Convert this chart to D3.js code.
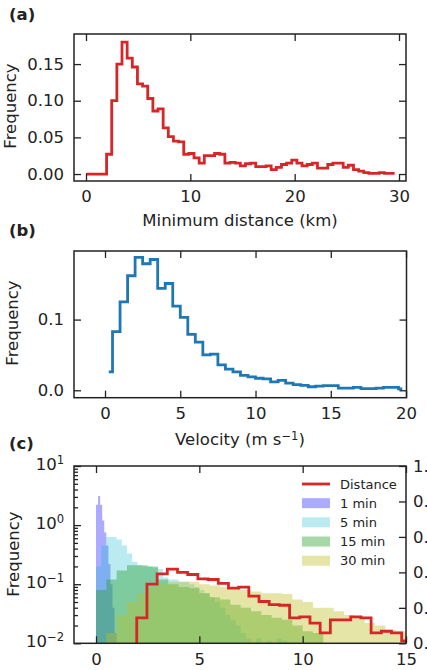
<!DOCTYPE html>
<html>
<head>
<meta charset="utf-8">
<script src="https://cdn.jsdelivr.net/npm/d3@7"></script>
<style>
  body { margin: 0; background: #fff; }
  svg { display: block; font-family: "DejaVu Sans", sans-serif; }
</style>
</head>
<body>
<script>
// ---- data ----
// (a) minimum distance histogram, bins start at 0 km
var distBinWidth = 0.493;
var distFreq = [0, 0, 0, 0, 0.027, 0.100, 0.150, 0.180, 0.158, 0.146,
  0.123, 0.120, 0.103, 0.086, 0.089, 0.063, 0.051, 0.045, 0.044, 0.027,
  0.028, 0.022, 0.015, 0.025, 0.025, 0.028, 0.027, 0.015, 0.016, 0.015,
  0.011, 0.014, 0.015, 0.010, 0.010, 0.011, 0.006, 0.009, 0.013, 0.015,
  0.019, 0.015, 0.011, 0.013, 0.015, 0.008, 0.008, 0.013, 0.015, 0.015,
  0.009, 0.012, 0.006, 0.004, 0.002, 0.001, 0.001, 0.002, 0.001, 0.001];

// (b) velocity histogram, 0.5 m/s bins, drawn mid-step
var velBinWidth = 0.5;
var velFreq = [0.026, 0.083, 0.125, 0.162, 0.188, 0.179, 0.185, 0.144, 0.151, 0.119,
  0.103, 0.079, 0.068, 0.050, 0.051, 0.036, 0.030, 0.026, 0.021, 0.019,
  0.017, 0.016, 0.012, 0.014, 0.010, 0.008, 0.007, 0.005, 0.006, 0.0066,
  0.0066, 0.003, 0.003, 0.004, 0.0024, 0.0024, 0.003, 0.004, 0.004, 0.002];

// (c) displacement histograms for several time windows (bins start at 0)
var oneMinWidth = 0.1;
var oneMin = [2.2, 3.1, 2.2, 1.2, 0.75, 0.45, 0.22, 0.1, 0.04, 0.015];
var fiveMinWidth = 0.25;
var fiveMin = [0.2, 0.45, 0.63, 0.63, 0.57, 0.45, 0.33, 0.24, 0.21, 0.2,
  0.2, 0.19, 0.18, 0.13, 0.12, 0.12, 0.11, 0.11, 0.1, 0.09,
  0.08, 0.07, 0.06, 0.05, 0.04, 0.03, 0.025, 0.02, 0.015, 0.012,
  0.01, 0.012, 0, 0.011, 0, 0.012, 0.011, 0];
var fifteenMinWidth = 0.5;
var fifteenMin = [0.08, 0.12, 0.17, 0.21, 0.21, 0.2, 0.12, 0.1, 0.09, 0.085,
  0.07, 0.06, 0.055, 0.045, 0.04, 0.035, 0.03, 0.027, 0.025, 0.02,
  0.016, 0.015];
var thirtyMinWidth = 0.5;
var thirtyMin = [0, 0.015, 0.03, 0.05, 0.07, 0.09, 0.1, 0.11, 0.11, 0.11,
  0.1, 0.095, 0.09, 0.085, 0.08, 0.075, 0.07, 0.07, 0.068, 0.055,
  0.05, 0.04, 0.04, 0.035, 0.03, 0.028, 0.022, 0.02, 0.017, 0.016, 0.015];

var legendLabels = ["Distance", "1 min", "5 min", "15 min", "30 min"];
var fillColors = ["#0000ff", "#17becf", "#2ca02c", "#bcbd22"];
var fillAlpha = [0.33, 0.3, 0.42, 0.4];

var aXTicks = [0, 10, 20, 30], aYTicks = [0, 0.05, 0.10, 0.15];
var bXTicks = [0, 5, 10, 15, 20], bYTicks = [0, 0.1];
var cXTicks = [0, 5, 10, 15], cYTicks = [1e-2, 1e-1, 1, 10];
var cRightTicks = [0, 0.2, 0.4, 0.6, 0.8, 1.0];

// ---- drawing ----
var W = 427, H = 670, FS = 16.5, INK = "#222";
var svg = d3.select("body").append("svg").attr("width", W).attr("height", H);

function edges(values, width) {
  var pts = values.map(function (v, i) { return { x: i * width, v: v }; });
  pts.push({ x: values.length * width, v: values[values.length - 1] });
  return pts;
}

function clip(id, box) {
  svg.append("clipPath").attr("id", id).append("rect")
    .attr("x", box.l).attr("y", box.t).attr("width", box.r - box.l).attr("height", box.b - box.t);
}

function styleAxis(g) {
  g.attr("font-size", FS).attr("font-family", "DejaVu Sans").attr("color", INK);
  g.selectAll(".domain").remove();
  g.selectAll(".tick line").attr("stroke-width", 1.3);
  return g;
}

function axes(box, x, y, xt, yt, xfmt, yfmt, rightTicks) {
  styleAxis(svg.append("g").attr("transform", "translate(0," + box.b + ")")
    .call(d3.axisBottom(x).tickValues(xt).tickSizeInner(-7).tickSizeOuter(0).tickPadding(9.5).tickFormat(xfmt)));
  styleAxis(svg.append("g").attr("transform", "translate(0," + box.t + ")")
    .call(d3.axisTop(x).tickValues(xt).tickSizeInner(-7).tickSizeOuter(0).tickFormat("")));
  var left = styleAxis(svg.append("g").attr("transform", "translate(" + box.l + ",0)")
    .call(d3.axisLeft(y).tickValues(yt).tickSizeInner(-7).tickSizeOuter(0).tickPadding(10).tickFormat(yfmt)));
  if (rightTicks) {
    styleAxis(svg.append("g").attr("transform", "translate(" + box.r + ",0)")
      .call(d3.axisRight(y).tickValues(yt).tickSizeInner(-7).tickSizeOuter(0).tickFormat("")));
  }
  return left;
}

function frame(box) {
  svg.append("rect").attr("x", box.l).attr("y", box.t)
    .attr("width", box.r - box.l).attr("height", box.b - box.t)
    .attr("fill", "none").attr("stroke", INK).attr("stroke-width", 1.5);
}

function text(x, y, s, opts) {
  var t = svg.append("text").attr("x", x).attr("y", y).attr("font-size", FS).attr("fill", INK).text(s);
  Object.keys(opts || {}).forEach(function (k) { t.attr(k, opts[k]); });
  return t;
}

function yLabel(x, cy) {
  text(x, cy, "Frequency", { "text-anchor": "middle", transform: "rotate(-90," + x + "," + cy + ")" });
}

// (a)
var boxA = { l: 74, r: 406, t: 34, b: 181 };
var xA = d3.scaleLinear().domain([-1.15, 30.67]).range([boxA.l, boxA.r]);
var yA = d3.scaleLinear().domain([-0.0095, 0.191]).range([boxA.b, boxA.t]);
clip("clipA", boxA);
svg.append("path").attr("clip-path", "url(#clipA)")
  .attr("d", d3.line().x(function (d) { return xA(d.x); }).y(function (d) { return yA(d.v); })
    .curve(d3.curveStepAfter)(edges(distFreq, distBinWidth)))
  .attr("fill", "none").attr("stroke", "#d62728").attr("stroke-width", 2.8);
axes(boxA, xA, yA, aXTicks, aYTicks, d3.format("d"), d3.format(".2f"), true);
frame(boxA);
text(9, 20, "(a)", { "font-weight": "bold" });
yLabel(16, 106);
text(240, 226, "Minimum distance (km)", { "text-anchor": "middle" });

// (b)
var boxB = { l: 74, r: 406.5, t: 251, b: 397.7 };
var xB = d3.scaleLinear().domain([-2.06, 20.03]).range([boxB.l, boxB.r]);
var yB = d3.scaleLinear().domain([-0.0105, 0.197]).range([boxB.b, boxB.t]);
clip("clipB", boxB);
svg.append("path").attr("clip-path", "url(#clipB)")
  .attr("d", d3.line().x(function (d, i) { return xB((i + 0.5) * velBinWidth); }).y(function (d) { return yB(d); })
    .curve(d3.curveStep)(velFreq))
  .attr("fill", "none").attr("stroke", "#1f77b4").attr("stroke-width", 2.8);
axes(boxB, xB, yB, bXTicks, bYTicks, d3.format("d"), d3.format(".1f"), true);
frame(boxB);
text(9, 236, "(b)", { "font-weight": "bold" });
yLabel(17.5, 323);
var vl = text(240, 445, "Velocity (m s", { "text-anchor": "middle" });
vl.append("tspan").attr("dy", "-0.45em").attr("font-size", "0.7em").text("\u22121");
vl.append("tspan").attr("dy", "0.315em").text(")");

// (c)
var boxC = { l: 74, r: 406, t: 466, b: 643.3 };
var xC = d3.scaleLinear().domain([-1.065, 15.0]).range([boxC.l, boxC.r]);
var yC = d3.scaleLog().domain([1e-2, 1e1]).range([boxC.b, boxC.t]);
var yR = d3.scaleLinear().domain([0, 1]).range([boxC.b, boxC.t]);
clip("clipC", boxC);
var floorV = 1e-4;
var area = d3.area().curve(d3.curveStepAfter)
  .x(function (d) { return xC(d.x); })
  .y0(boxC.b + 5)
  .y1(function (d) { return yC(Math.max(d.v, floorV)); });
var fills = [[oneMin, oneMinWidth], [fiveMin, fiveMinWidth], [fifteenMin, fifteenMinWidth], [thirtyMin, thirtyMinWidth]];
var gFill = svg.append("g").attr("clip-path", "url(#clipC)");
fills.forEach(function (f, i) {
  gFill.append("path").attr("d", area(edges(f[0], f[1])))
    .attr("fill", fillColors[i]).attr("fill-opacity", fillAlpha[i]);
});
gFill.append("path")
  .attr("d", d3.line().x(function (d) { return xC(d.x); }).y(function (d) { return yC(Math.max(d.v, floorV)); })
    .curve(d3.curveStepAfter)(edges(distFreq, distBinWidth)))
  .attr("fill", "none").attr("stroke", "#d62728").attr("stroke-width", 2.8);

var leftC = axes(boxC, xC, yC, cXTicks, cYTicks, d3.format("d"), function () { return ""; }, false);
leftC.selectAll(".tick text").each(function (d) {
  var t = d3.select(this).text(null);
  var e = Math.round(Math.log10(d));
  t.append("tspan").attr("dy", "0.2em").text("10");
  t.append("tspan").attr("dy", "-0.5em").attr("font-size", "0.7em").text(e < 0 ? "\u2212" + (-e) : String(e));
});
var minors = [];
[1e-2, 1e-1, 1].forEach(function (dec) { d3.range(2, 10).forEach(function (k) { minors.push(k * dec); }); });
styleAxis(svg.append("g").attr("transform", "translate(" + boxC.l + ",0)")
  .call(d3.axisLeft(yC).tickValues(minors).tickSizeInner(-4).tickSizeOuter(0).tickFormat("")));
styleAxis(svg.append("g").attr("transform", "translate(" + boxC.r + ",0)")
  .call(d3.axisRight(yR).tickValues(cRightTicks).tickSizeInner(-7).tickSizeOuter(0).tickPadding(7).tickFormat(d3.format(".1f"))));
frame(boxC);
text(9, 449, "(c)", { "font-weight": "bold" });
yLabel(19, 554);

// legend
var ly = d3.scalePoint().domain(legendLabels).range([484, 560.7]);
var lg = svg.append("g");
legendLabels.forEach(function (lab, i) {
  var yy = ly(lab);
  if (i === 0) {
    lg.append("line").attr("x1", 302).attr("x2", 330).attr("y1", yy).attr("y2", yy)
      .attr("stroke", "#d62728").attr("stroke-width", 2.8);
  } else {
    lg.append("rect").attr("x", 302).attr("y", yy - 5).attr("width", 28).attr("height", 10)
      .attr("fill", fillColors[i - 1]).attr("fill-opacity", fillAlpha[i - 1]);
  }
  lg.append("text").attr("x", 340).attr("y", yy + 4.6).attr("font-size", 13).attr("fill", INK).text(lab);
});
</script>
</body>
</html>
